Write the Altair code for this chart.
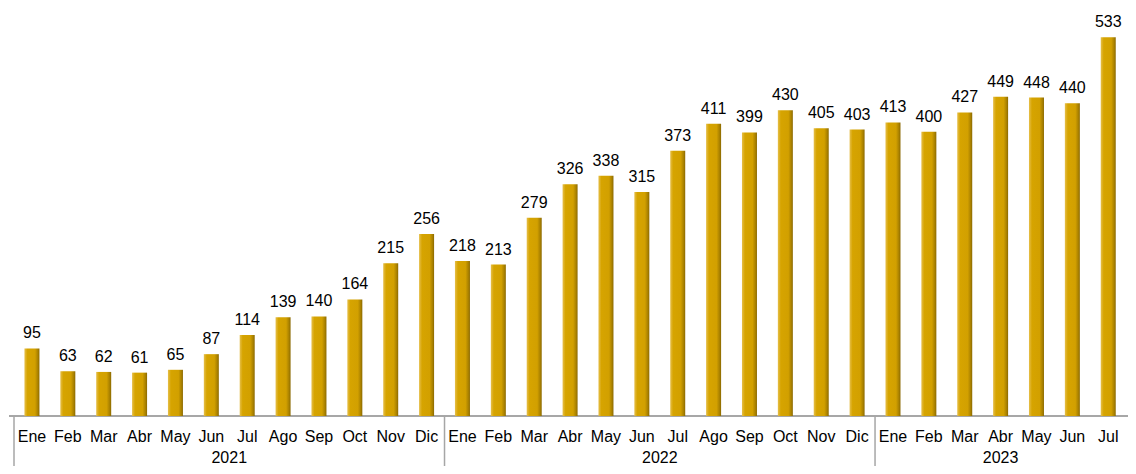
import altair as alt
import pandas as pd

months = ["Ene", "Feb", "Mar", "Abr", "May", "Jun", "Jul", "Ago", "Sep", "Oct", "Nov", "Dic"]
years = ["2021", "2022", "2023"]
values_2021 = [95, 63, 62, 61, 65, 87, 114, 139, 140, 164, 215, 256]
values_2022 = [218, 213, 279, 326, 338, 315, 373, 411, 399, 430, 405, 403]
values_2023 = [413, 400, 427, 449, 448, 440, 533]

rows = []
for y, vals in zip(years, [values_2021, values_2022, values_2023]):
    for m, v in zip(months, vals):
        rows.append({"year": y, "month": m, "value": v})
df = pd.DataFrame(rows)
df["pos"] = [i + 0.5 for i in range(len(df))]

# year group info
grp = df.groupby("year", sort=False)["pos"].agg(["min", "max"]).reset_index()
grp["center"] = (grp["min"] + grp["max"]) / 2
grp["start"] = grp["min"] - 0.5
ydf = grp[["year", "center", "start"]]

FONT = "Liberation Sans"
AX = "#a6a6a6"
W = 1119
STEP = 36.2
xscale = alt.Scale(domain=[0, W / STEP], nice=False, zero=False)
yscale = alt.Scale(domain=[0, 574], nice=False)

base = alt.Chart(df)

bars = base.mark_bar(
    width=15,
    color=alt.Gradient(
        gradient="linear",
        stops=[
            alt.GradientStop(color="#e6bf4a", offset=0),
            alt.GradientStop(color="#d6a400", offset=0.2),
            alt.GradientStop(color="#d2a000", offset=0.7),
            alt.GradientStop(color="#a88000", offset=0.9),
            alt.GradientStop(color="#8a6800", offset=1),
        ],
        x1=0, x2=1, y1=0, y2=0,
    ),
).encode(
    x=alt.X("pos:Q", scale=xscale, axis=None),
    y=alt.Y("value:Q", scale=yscale, axis=None),
)

vlabels = base.mark_text(
    font=FONT, fontSize=16, color="#000000", baseline="alphabetic", dy=-10
).encode(
    x=alt.X("pos:Q", scale=xscale, axis=None),
    y=alt.Y("value:Q", scale=yscale, axis=None),
    text="value:Q",
)

mlabels = base.mark_text(
    font=FONT, fontSize=16, color="#000000", baseline="alphabetic"
).encode(
    x=alt.X("pos:Q", scale=xscale, axis=None),
    y=alt.value(433.5),
    text="month:N",
)

ylabels = alt.Chart(ydf).mark_text(
    font=FONT, fontSize=16, color="#000000", baseline="alphabetic"
).encode(
    x=alt.X("center:Q", scale=xscale, axis=None),
    y=alt.value(454.5),
    text="year:N",
)

seps = alt.Chart(ydf).mark_rule(color=AX, strokeWidth=1.5).encode(
    x=alt.X("start:Q", scale=xscale, axis=None),
    y=alt.value(408),
    y2=alt.value(458),
)

axisline = alt.Chart(ydf).mark_rule(color=AX, strokeWidth=1.5).encode(
    x=alt.value(0), x2=alt.value(W), y=alt.value(408)
)

chart = alt.layer(axisline, seps, bars, vlabels, mlabels, ylabels).properties(
    width=W,
    height=408,
    autosize=alt.AutoSizeParams(type="none"),
    padding={"left": 1, "top": 0, "right": 0, "bottom": 50},
).configure_view(stroke=None)

chart.save("out.html", embed_options={"renderer": "svg", "actions": False})
